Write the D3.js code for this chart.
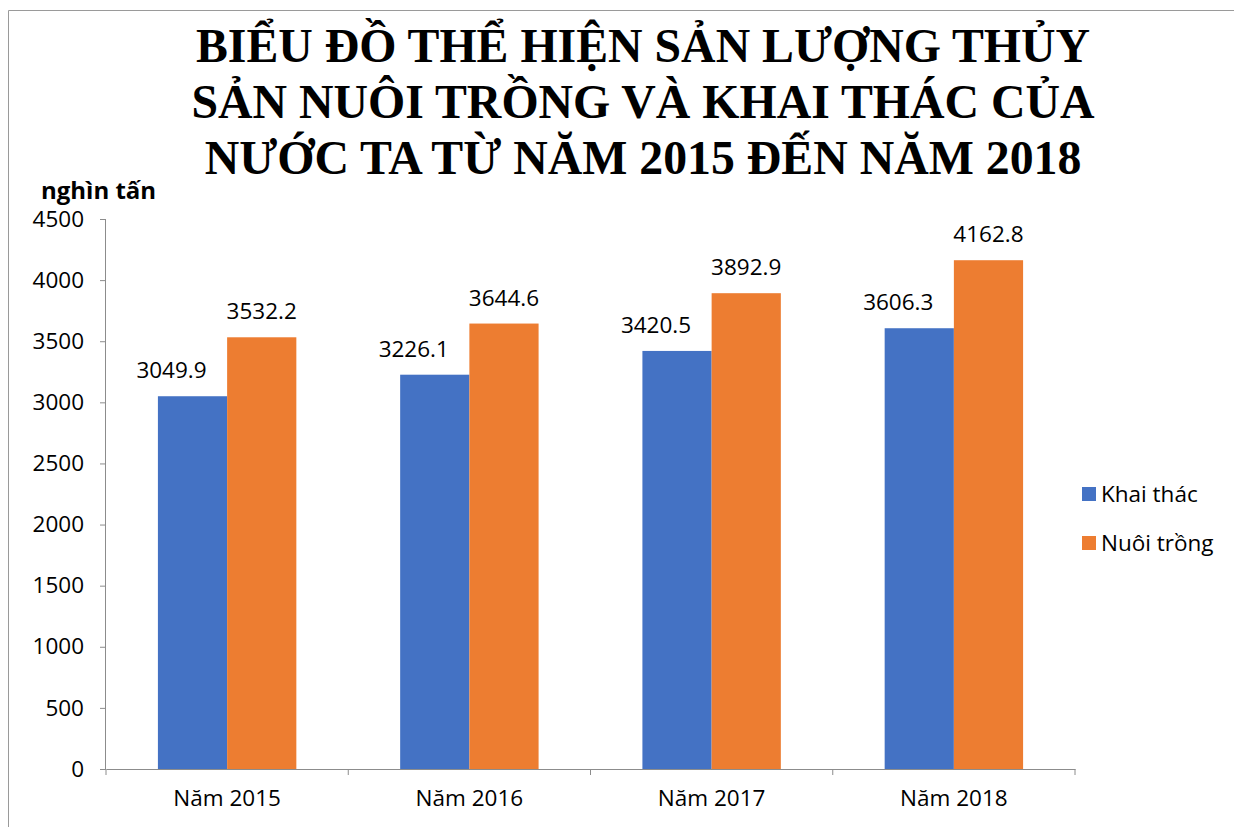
<!DOCTYPE html>
<html>
<head>
<meta charset="utf-8">
<script src="https://cdn.jsdelivr.net/npm/d3@7"></script>
<style>
  body { margin: 0; background: #fff; }
  svg { display: block; }
</style>
</head>
<body>
<div id="chart"></div>
<script>
const titleLines = ["BIỂU ĐỒ THỂ HIỆN SẢN LƯỢNG THỦY", "SẢN NUÔI TRỒNG VÀ KHAI THÁC CỦA", "NƯỚC TA TỪ NĂM 2015 ĐẾN NĂM 2018"];
const years = ["Năm 2015", "Năm 2016", "Năm 2017", "Năm 2018"];
const seriesNames = ["Khai thác", "Nuôi trồng"];
const khaiThac = [3049.9, 3226.1, 3420.5, 3606.3];
const nuoiTrong = [3532.2, 3644.6, 3892.9, 4162.8];
const yTicks = [0, 500, 1000, 1500, 2000, 2500, 3000, 3500, 4000, 4500];
const colors = ["#4472c4", "#ed7d31"];

const W = 1234, H = 827;
const margin = {top: 219, left: 106, right: 1234 - 1075, bottom: 827 - 769};
const width = W - margin.left - margin.right,
    height = H - margin.top - margin.bottom;
const font = "'Open Sans', sans-serif";
const fs = "22.5px";

const svg = d3.select("#chart").append("svg")
    .attr("width", W).attr("height", H);

// frame
svg.append("path")
    .attr("d", "M8.5," + H + "V10.5H" + W)
    .attr("fill", "none").attr("stroke", "#9a9a9a").attr("stroke-width", 1);

// title
svg.append("g").selectAll("text")
    .data(titleLines)
    .join("text")
    .attr("x", 643)
    .attr("y", (d, i) => 62 + i * 56)
    .attr("text-anchor", "middle")
    .style("font-family", "Liberation Serif, 'Times New Roman', serif")
    .style("font-weight", "bold")
    .style("font-size", "47.8px")
    .text(d => d);

svg.append("text")
    .attr("x", 41).attr("y", 199)
    .style("font-family", font).style("font-weight", "bold").style("font-size", "24px")
    .text("nghìn tấn");

const g = svg.append("g").attr("transform", "translate(" + margin.left + "," + margin.top + ")");

const x = d3.scaleBand().domain(years).range([0, width]).paddingInner(0).paddingOuter(0);
const x1 = d3.scaleBand().domain(seriesNames).range([0, x.bandwidth()]).paddingInner(0).paddingOuter(0.75);
const y = d3.scaleLinear().domain([0, 4500]).range([height, 0]);

// y axis
const yAxis = g.append("g")
    .call(d3.axisLeft(y).tickValues(yTicks).tickFormat(d3.format("d")).tickSize(6).tickPadding(16));
yAxis.selectAll("line, path").attr("stroke", "#8c8c8c");
yAxis.select(".domain").attr("d", "M-0.5," + height + "V0.5H-6");
yAxis.selectAll("text").style("font-family", font).style("font-size", fs).attr("fill", "#000");

// x axis
const xAxis = g.append("g")
    .attr("transform", "translate(0," + height + ")")
    .call(d3.axisBottom(x).tickSize(0).tickPadding(21));
xAxis.select(".domain").attr("stroke", "#8c8c8c");
xAxis.selectAll("text").style("font-family", font).style("font-size", fs).attr("fill", "#000");
xAxis.selectAll(".sep")
    .data(d3.range(years.length + 1))
    .join("line")
    .attr("class", "sep")
    .attr("x1", i => i * x.step()).attr("x2", i => i * x.step())
    .attr("y1", 0).attr("y2", 6)
    .attr("stroke", "#8c8c8c");

const data = years.map((yr, i) => ({year: yr, values: [
    {name: seriesNames[0], value: khaiThac[i], idx: 0},
    {name: seriesNames[1], value: nuoiTrong[i], idx: 1}
]}));

const groups = g.selectAll(".grp")
    .data(data)
    .join("g")
    .attr("class", "grp")
    .attr("transform", d => "translate(" + x(d.year) + ",0)");

groups.selectAll("rect")
    .data(d => d.values)
    .join("rect")
    .attr("x", d => x1(d.name))
    .attr("y", d => y(d.value))
    .attr("width", x1.bandwidth())
    .attr("height", d => height - y(d.value))
    .attr("fill", d => colors[d.idx]);

groups.selectAll(".lbl")
    .data(d => d.values)
    .join("text")
    .attr("class", "lbl")
    .attr("x", d => x1(d.name) + x1.bandwidth() / 2 + (d.idx === 0 ? -21 : 0))
    .attr("y", d => y(d.value) - 18)
    .attr("text-anchor", "middle")
    .style("font-family", font).style("font-size", fs)
    .text(d => d.value.toFixed(1));

// legend
const legend = svg.append("g").selectAll("g")
    .data(seriesNames)
    .join("g")
    .attr("transform", (d, i) => "translate(1082," + (487 + i * 49) + ")");
legend.append("rect").attr("width", 14).attr("height", 14).attr("fill", (d, i) => colors[i]);
legend.append("text")
    .attr("x", 19).attr("y", 15)
    .style("font-family", font).style("font-size", fs)
    .text(d => d);
</script>
</body>
</html>
